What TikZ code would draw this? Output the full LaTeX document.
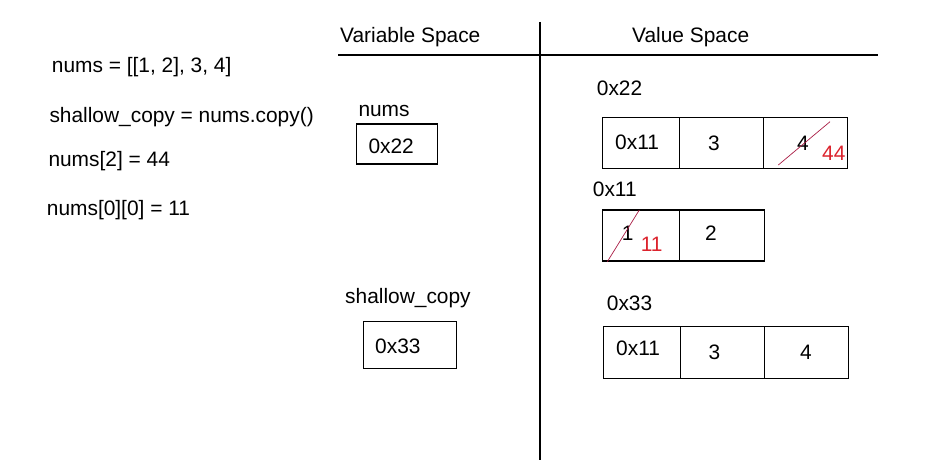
\documentclass[tikz,border=0pt]{standalone}
\usepackage{fontspec}
\setmainfont{Liberation Sans}
\definecolor{valred}{RGB}{220,35,45}
\definecolor{strikecol}{RGB}{170,30,70}
\begin{document}
\begin{tikzpicture}[x=1pt,y=-1pt,
  txt/.style={inner sep=0pt, anchor=base west, font=\fontsize{20.9}{25}\selectfont},
  redtxt/.style={txt, text=valred},
  cell/.style={draw, line width=1.1pt, rectangle, inner sep=0pt, minimum height=51pt},
  varbox/.style={draw, line width=1.1pt, rectangle, inner sep=0pt},
  strike/.style={draw=strikecol, line width=0.7pt},
  rule/.style={line width=1.1pt}]
\useasboundingbox (0,0) rectangle (939,460);
\fill[white] (0,0) rectangle (939,460);

% code on the left
\node[txt] (c1) at (51.7,73) {nums = [[1, 2], 3, 4]};
\node[txt] (c2) at (49.3,122) {shallow\_copy = nums.copy()};
\node[txt] (c3) at (48.3,166.7) {nums[2] = 44};
\node[txt] (c4) at (46.7,215) {nums[0][0] = 11};

% headings and dividing lines
\node[txt] (hvar) at (340,43) {Variable Space};
\node[txt] (hval) at (632,43) {Value Space};
\coordinate (vtop) at (540,22);
\coordinate (vbot) at (540,460);
\coordinate (hleft) at (338,55);
\coordinate (hright) at (878,55);
\draw[rule] (vtop) -- (vbot);
\draw[rule] (hleft) -- (hright);

% variable space
\node[txt] (lnums) at (358.3,116.7) {nums};
\node[varbox, minimum width=81.3pt, minimum height=40pt] (vnums) at (396.7,144) {};
\node[txt] (tnums) at (368.3,153.3) {0x22};
\node[txt] (lshallow) at (345,303.3) {shallow\_copy};
\node[varbox, minimum width=92.7pt, minimum height=46.6pt] (vshallow) at (409.7,345) {};
\node[txt] (tshallow) at (375,353.3) {0x33};

% value space: 0x22
\node[txt] (l22) at (596.7,95) {0x22};
\node[cell, minimum width=76.6pt] (A1) at (641,142.8) {};
\node[cell, minimum width=84pt] (A2) at (721.3,142.8) {};
\node[cell, minimum width=84pt] (A3) at (805.3,142.8) {};
\node[txt] (tA1) at (615,149.3) {0x11};
\node[txt] (tA2) at (708,150.7) {3};
\node[txt] (tA3) at (797,150.5) {4};
\node[redtxt] (tA3new) at (822,160) {44};
\coordinate (sA3a) at (778.3,165);
\coordinate (sA3b) at (830,121.7);
\draw[strike] (sA3a) -- (sA3b);

% value space: 0x11
\node[txt] (l11) at (592.7,196.7) {0x11};
\node[cell, minimum width=76.6pt] (B1) at (641,235.5) {};
\node[cell, minimum width=85pt] (B2) at (721.8,235.5) {};
\node[txt] (tB1) at (621.7,240) {1};
\node[redtxt] (tB1new) at (640.7,251.7) {11};
\node[txt] (tB2) at (705,240) {2};
\coordinate (sB1a) at (607.3,261.7);
\coordinate (sB1b) at (639.3,210);
\draw[strike] (sB1a) -- (sB1b);

% value space: 0x33
\node[txt] (l33) at (606.7,310.7) {0x33};
\node[cell, minimum width=77.4pt, minimum height=51.6pt] (C1) at (642,352.5) {};
\node[cell, minimum width=83.6pt, minimum height=51.6pt] (C2) at (722.5,352.5) {};
\node[cell, minimum width=84pt, minimum height=51.6pt] (C3) at (806.3,352.5) {};
\node[txt] (tC1) at (616,355) {0x11};
\node[txt] (tC2) at (708.3,359.3) {3};
\node[txt] (tC3) at (800,359) {4};
\end{tikzpicture}
\end{document}
